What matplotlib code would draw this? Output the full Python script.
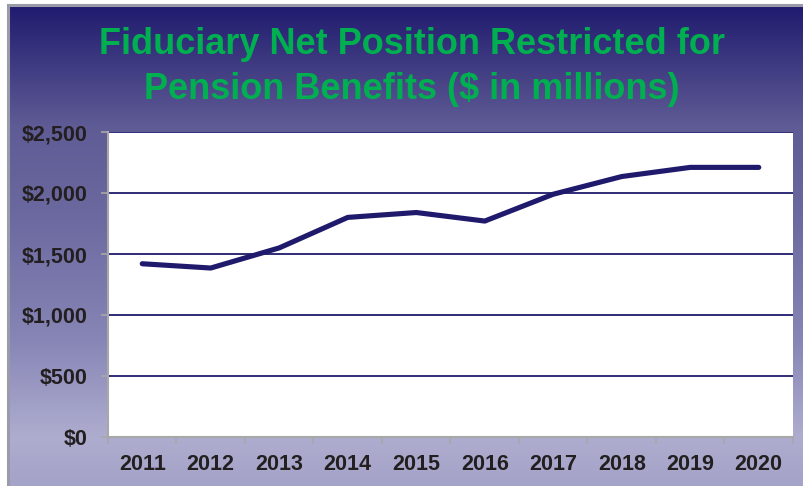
import numpy as np
import matplotlib.pyplot as plt
from matplotlib.colors import LinearSegmentedColormap

# data
years = ['2011', '2012', '2013', '2014', '2015', '2016', '2017', '2018', '2019', '2020']
net_position = [1420, 1385, 1550, 1800, 1840, 1770, 1990, 2135, 2210, 2210]
y_ticks = [0, 500, 1000, 1500, 2000, 2500]
y_labels = ['$0', '$500', '$1,000', '$1,500', '$2,000', '$2,500']

title = 'Fiduciary Net Position Restricted for\nPension Benefits ($ in millions)'

plt.rcParams['font.family'] = ['Liberation Sans', 'DejaVu Sans']

W, H = 804, 486
fig = plt.figure(figsize=(W / 100, H / 100), dpi=100)
fig.patch.set_facecolor('white')

# gradient background panel
bg = fig.add_axes([9 / W, 0, 1 - 9 / W, 1 - 6 / H])
cmap = LinearSegmentedColormap.from_list(
    'bg', [(0.0, '#201b6e'), (0.25, '#5f5b95'), (0.45, '#6c6aa0'),
           (0.7, '#8886b6'), (0.9, '#aeadcf'), (1.0, '#a4a3c8')])
grad = np.linspace(0, 1, 256).reshape(-1, 1)
bg.imshow(grad, aspect='auto', cmap=cmap, extent=[0, 1, 0, 1], origin='upper')
bg.set_axis_off()

# gray frame on top and left
fig.add_artist(plt.Line2D([8 / W, 1], [1 - 5 / H, 1 - 5 / H], color='#9a9aa8', lw=2.2, transform=fig.transFigure))
fig.add_artist(plt.Line2D([8 / W, 8 / W], [0, 1 - 5 / H], color='#9a9aa8', lw=2.2, transform=fig.transFigure))

fig.text(0.512, 1 - 67 / H, title, ha='center', va='center', color='#00b050',
         fontsize=26, fontweight='bold', linespacing=1.4)

ax = fig.add_axes([108 / W, 1 - 437 / H, (793 - 108) / W, (437 - 132) / H])
ax.set_facecolor('white')
x = np.arange(len(years))
ax.plot(x, net_position, color='#1f1a6b', lw=3.7, solid_capstyle='round', solid_joinstyle='round', zorder=3)

ax.set_xlim(-0.5, len(years) - 0.5)
ax.set_ylim(0, 2500)
ax.set_yticks(y_ticks)
ax.set_yticklabels(y_labels)
ax.set_xticks(x)
ax.set_xticklabels(years)
ax.set_xticks(np.arange(-0.5, len(years)), minor=True)

for v in y_ticks[1:]:
    ax.axhline(v, color='#1f1a6b', lw=1.3, zorder=2)

for s in ['top', 'right']:
    ax.spines[s].set_visible(False)
for s in ['left', 'bottom']:
    ax.spines[s].set_color('#a8a8a8')
    ax.spines[s].set_linewidth(1.5)

ax.tick_params(axis='y', length=5, width=1.2, color='#a8a8a8', pad=10,
               labelsize=15.5, labelcolor='#231f20')
ax.tick_params(axis='x', which='major', length=0, pad=12, labelsize=15.5, labelcolor='#231f20')
ax.tick_params(axis='x', which='minor', length=5, width=1.2, color='#a8a8a8')
for lab in ax.get_xticklabels() + ax.get_yticklabels():
    lab.set_fontweight('bold')

fig.savefig('out.png', dpi=100)
